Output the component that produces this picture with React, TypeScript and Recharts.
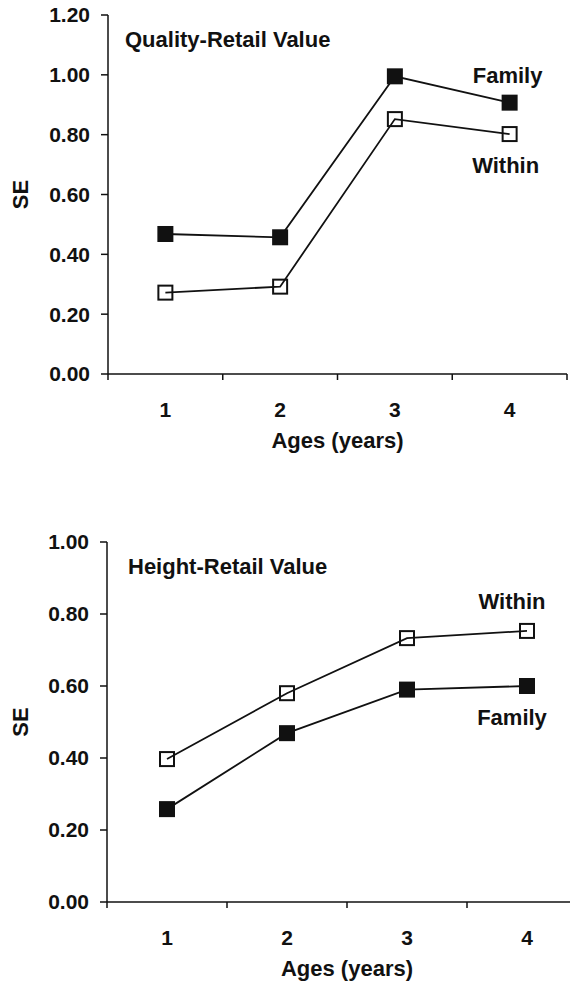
import React from 'react';
import { LineChart, Line, XAxis, YAxis, LabelList } from 'recharts';

const ages = [1, 2, 3, 4];
const qualityFamily = [0.468, 0.457, 0.995, 0.907];
const qualityWithin = [0.272, 0.292, 0.852, 0.802];
const heightFamily = [0.258, 0.469, 0.59, 0.6];
const heightWithin = [0.397, 0.58, 0.733, 0.753];

const xTicks = [0.5, 1, 1.5, 2, 2.5, 3, 3.5, 4, 4.5];
const qualityYTicks = [0, 0.2, 0.4, 0.6, 0.8, 1.0, 1.2];
const heightYTicks = [0, 0.2, 0.4, 0.6, 0.8, 1.0];

const qualityData = ages.map((a, i) => ({ age: a, family: qualityFamily[i], within: qualityWithin[i] }));
const heightData = ages.map((a, i) => ({ age: a, family: heightFamily[i], within: heightWithin[i] }));

const FONT = '"Liberation Sans", Arial, Helvetica, sans-serif';
const INK = '#111';
const WORD_SIZE = 22;

const XTick = (props: any) => {
  const { x, y, payload } = props;
  const v = payload.value;
  if (Math.abs(v - Math.round(v)) > 0.01) {
    return <line x1={x} x2={x} y1={y} y2={y + 6} stroke={INK} strokeWidth={1.5} />;
  }
  return (
    <text x={x} y={y + 43} textAnchor="middle" fontFamily={FONT} fontWeight="bold" fontSize={21} fill={INK}>
      {v}
    </text>
  );
};

const filledDot = (p: any) => (
  <rect key={`f${p.index}`} x={p.cx - 8} y={p.cy - 8} width={16} height={16} fill={INK} />
);
const openDot = (p: any) => (
  <rect key={`o${p.index}`} x={p.cx - 7} y={p.cy - 7} width={14} height={14} fill="none" stroke={INK} strokeWidth={2} />
);

const endLabel = (text: string, dx: number, dy: number) => (p: any) =>
  p.index === 3 ? (
    <text key={text} x={p.x + dx} y={p.y + dy} textAnchor="middle" fontFamily={FONT} fontWeight="bold" fontSize={WORD_SIZE} fill={INK}>
      {text}
    </text>
  ) : null;

const seLabel = (p: any) => {
  const vb = p.viewBox;
  const cx = 20;
  const cy = vb.y + vb.height / 2;
  return (
    <text x={cx} y={cy} dy="0.355em" transform={`rotate(-90 ${cx} ${cy})`} textAnchor="middle" fontFamily={FONT} fontWeight="bold" fontSize={WORD_SIZE} fill={INK}>
      SE
    </text>
  );
};

const agesLabel = (p: any) => {
  const vb = p.viewBox;
  return (
    <text x={vb.x + vb.width / 2} y={vb.y + 74} textAnchor="middle" fontFamily={FONT} fontWeight="bold" fontSize={WORD_SIZE} fill={INK}>
      Ages (years)
    </text>
  );
};

const tickStyle = { fontFamily: FONT, fontWeight: 'bold', fontSize: 21, fill: INK } as any;

type PanelProps = {
  data: any[];
  width: number;
  height: number;
  margin: any;
  yWidth: number;
  yMax: number;
  yTicks: number[];
  familyLabel: [number, number];
  withinLabel: [number, number];
};

const Panel = ({ data, width, height, margin, yWidth, yMax, yTicks, familyLabel, withinLabel }: PanelProps) => (
  <LineChart width={width} height={height} data={data} margin={margin}>
    <XAxis
      dataKey="age"
      type="number"
      domain={[0.5, 4.5]}
      ticks={xTicks}
      interval={0}
      tickLine={false}
      tickSize={0}
      tickMargin={0}
      tick={<XTick />}
      height={80}
      axisLine={{ stroke: INK, strokeWidth: 1.5 }}
      label={agesLabel}
    />
    <XAxis
      xAxisId="top"
      dataKey="age"
      type="number"
      orientation="top"
      domain={[0.5, 4.5]}
      height={0}
      tick={false}
      tickLine={false}
      axisLine={{ stroke: INK, strokeWidth: 1.5 }}
    />
    <YAxis
      type="number"
      domain={[0, yMax]}
      ticks={yTicks}
      interval={0}
      width={yWidth}
      tickSize={7}
      tickMargin={11}
      tick={tickStyle}
      tickFormatter={(v: number) => v.toFixed(2)}
      tickLine={{ stroke: INK, strokeWidth: 1.5 }}
      axisLine={{ stroke: INK, strokeWidth: 1.5 }}
      label={seLabel}
    />
    <YAxis
      yAxisId="right"
      orientation="right"
      type="number"
      domain={[0, yMax]}
      width={0}
      tick={false}
      tickLine={false}
      axisLine={{ stroke: INK, strokeWidth: 1.5 }}
    />
    <Line dataKey="within" stroke={INK} strokeWidth={1.8} dot={openDot} isAnimationActive={false}>
      <LabelList dataKey="within" content={endLabel('Within', withinLabel[0], withinLabel[1])} />
    </Line>
    <Line dataKey="family" stroke={INK} strokeWidth={1.8} dot={filledDot} isAnimationActive={false}>
      <LabelList dataKey="family" content={endLabel('Family', familyLabel[0], familyLabel[1])} />
    </Line>
  </LineChart>
);

const titleStyle: React.CSSProperties = {
  position: 'absolute',
  fontFamily: FONT,
  fontWeight: 'bold',
  fontSize: WORD_SIZE,
  lineHeight: '22px',
  color: INK,
  whiteSpace: 'nowrap',
};

export default function App() {
  return (
    <div style={{ position: 'fixed', left: 0, top: 0, width: 570, height: 982, overflow: 'hidden', background: '#fff' }}>
      <div style={{ position: 'absolute', left: 0, top: 0 }}>
        <Panel
          data={qualityData}
          width={570}
          height={460}
          margin={{ top: 15, right: 3, bottom: 6, left: 0 }}
          yWidth={108}
          yMax={1.2}
          yTicks={qualityYTicks}
          familyLabel={[-2, -20]}
          withinLabel={[-4, 39]}
        />
      </div>
      <div style={{ position: 'absolute', left: 0, top: 480 }}>
        <Panel
          data={heightData}
          width={600}
          height={502}
          margin={{ top: 62, right: 13, bottom: 0, left: 0 }}
          yWidth={107}
          yMax={1.0}
          yTicks={heightYTicks}
          familyLabel={[-15, 39]}
          withinLabel={[-15, -22]}
        />
      </div>
      <div style={{ ...titleStyle, left: 125, top: 29 }}>Quality-Retail Value</div>
      <div style={{ ...titleStyle, left: 128, top: 556 }}>Height-Retail Value</div>
    </div>
  );
}
